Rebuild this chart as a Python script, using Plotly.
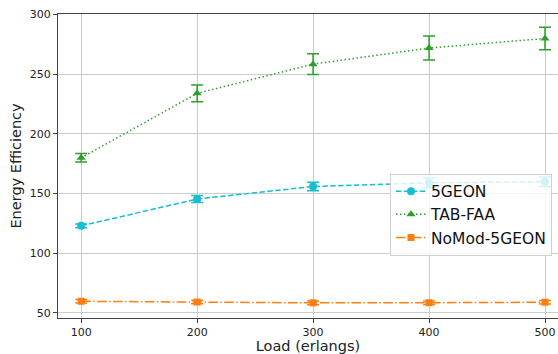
import plotly.graph_objects as go

loads = [100, 200, 300, 400, 500]
geon = [123, 145.5, 156, 159, 160]
geon_err = [1.5, 3, 3.5, 4, 4]
tab = [180, 234, 258.5, 272, 280]
tab_err = [3.6, 7, 8.7, 10, 9.4]
nomod = [59.8, 59.2, 58.5, 58.6, 59]
nomod_err = [1.5, 1.5, 1.5, 1.5, 1.5]

fig = go.Figure()
fig.add_trace(go.Scatter(x=loads, y=geon, name="5GEON", mode="lines+markers",
    line=dict(color="#17becf", dash="5.5px,2.4px", width=1.5),
    marker=dict(symbol="circle", size=8, color="#17becf"),
    error_y=dict(type="data", array=geon_err, color="#17becf", thickness=1.5, width=6)))
fig.add_trace(go.Scatter(x=loads, y=tab, name="TAB-FAA", mode="lines+markers",
    line=dict(color="#2ca02c", dash="1.5px,2.5px", width=1.5),
    marker=dict(symbol="triangle-up", size=8, color="#2ca02c"),
    error_y=dict(type="data", array=tab_err, color="#2ca02c", thickness=1.5, width=6)))
fig.add_trace(go.Scatter(x=loads, y=nomod, name="NoMod-5GEON", mode="lines+markers",
    line=dict(color="#ff7f0e", dash="9.6px,2.4px,1.5px,2.4px", width=1.5),
    marker=dict(symbol="square", size=7, color="#ff7f0e"),
    error_y=dict(type="data", array=nomod_err, color="#ff7f0e", thickness=1.5, width=6)))

fig.update_layout(
    width=558, height=354,
    margin=dict(l=58, r=0, t=14, b=36, autoexpand=False),
    paper_bgcolor="white", plot_bgcolor="white",
    font=dict(family="DejaVu Sans", color="#222"),
    showlegend=True,
    legend=dict(x=0.664, y=0.475, xanchor="left", yanchor="top",
                bgcolor="rgba(255,255,255,0.8)", bordercolor="#d0d0d0", borderwidth=1,
                font=dict(size=15.5, color="#111"), tracegroupgap=0),
)
fig.update_xaxes(range=[80, 511.2], tickvals=loads, ticks="outside", ticklen=4,
    tickfont=dict(size=11), showgrid=True, gridcolor="#cccccc", gridwidth=1,
    showline=True, linecolor="#444", linewidth=1.2, mirror=True, zeroline=False,
    title=dict(text="Load (erlangs)", font=dict(size=14.5), standoff=4))
fig.update_yaxes(range=[45.8, 300.5], tickvals=[50, 100, 150, 200, 250, 300], ticks="outside", ticklen=4,
    tickfont=dict(size=11), showgrid=True, gridcolor="#cccccc", gridwidth=1,
    showline=True, linecolor="#444", linewidth=1.2, zeroline=False,
    title=dict(text="Energy Efficiency", font=dict(size=14.5), standoff=4))

fig.write_html("out.html")
